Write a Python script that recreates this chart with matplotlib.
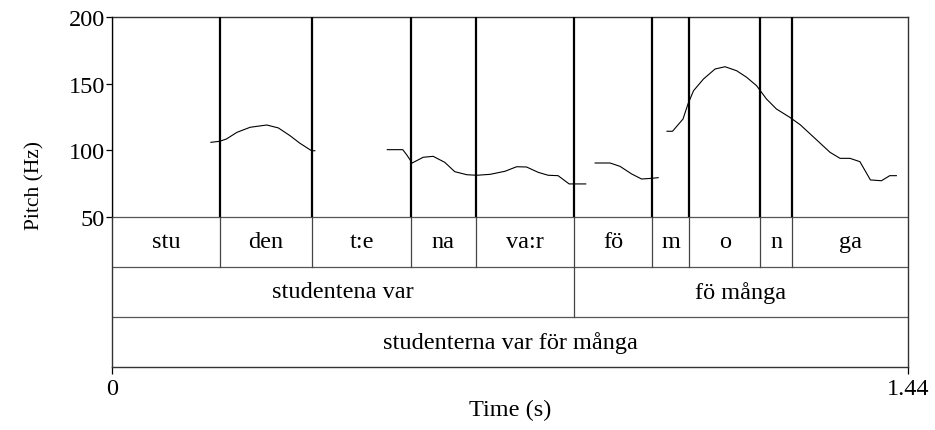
import matplotlib
matplotlib.use("Agg")
import matplotlib.pyplot as plt

# ---- data ----
total_dur = 1.44
tier1_bounds = [0.0, 0.195, 0.362, 0.541, 0.658, 0.836, 0.977, 1.044, 1.173, 1.231, 1.44]
tier1_labels = ["stu", "den", "t:e", "na", "va:r", "fö", "m", "o", "n", "ga"]
tier2_bounds = [0.0, 0.836, 1.44]
tier2_labels = ["studentena var", "fö många"]
tier3_bounds = [0.0, 1.44]
tier3_labels = ["studenterna var för många"]

seg1_t = [0.179, 0.195, 0.207, 0.226, 0.250, 0.280, 0.301, 0.322, 0.340, 0.361, 0.367]
seg1_hz = [106.0, 106.8, 108.5, 113.5, 117.3, 119.0, 116.8, 111.0, 105.3, 99.7, 99.7]
seg2_t = [0.498, 0.526, 0.533, 0.543, 0.563, 0.581, 0.602, 0.620, 0.642, 0.660, 0.684,
          0.711, 0.732, 0.750, 0.771, 0.789, 0.807, 0.827, 0.857]
seg2_hz = [100.5, 100.5, 96.7, 90.5, 94.8, 95.5, 91.0, 84.0, 81.7, 81.3, 82.0,
           84.3, 87.7, 87.5, 83.5, 81.3, 81.0, 74.8, 74.8]
seg3_t = [0.874, 0.901, 0.919, 0.940, 0.958, 0.976, 0.988]
seg3_hz = [90.5, 90.5, 88.0, 82.3, 78.5, 79.0, 79.5]
seg4_t = [1.004, 1.014, 1.033, 1.042, 1.052, 1.070, 1.091, 1.109, 1.130, 1.148, 1.166,
          1.184, 1.202, 1.226, 1.245, 1.263, 1.299, 1.317, 1.335, 1.353, 1.372, 1.392,
          1.407, 1.419]
seg4_hz = [114.3, 114.3, 123.5, 134.8, 144.7, 153.5, 161.0, 162.7, 159.7, 154.8, 148.5,
           138.5, 131.0, 124.8, 119.2, 112.3, 98.5, 94.0, 94.0, 91.5, 77.8, 77.2,
           81.0, 81.0]

y_ticks = [50, 100, 150, 200]
x_ticks = [0, 1.44]
x_ticklabels = ["0", "1.44"]

# ---- layout ----
plt.rcParams['font.family'] = ['Liberation Serif', 'DejaVu Serif']
W, H = 935, 431
fig = plt.figure(figsize=(W / 100, H / 100), dpi=100)
left, right, top, bottom = 112, 908, 18, 368
ax = fig.add_axes([left / W, 1 - bottom / H, (right - left) / W, (bottom - top) / H])

pmin, pmax = 50, 200
tier_h = (pmax - pmin) / 4.0  # 50px per tier vs 200px pitch area
ymin = pmin - 3 * tier_h
ax.set_xlim(0, total_dur)
ax.set_ylim(ymin, pmax)

fs = 17.5
# boundaries through pitch area (thick)
for b in tier1_bounds[:-1]:
    ax.plot([b, b], [pmin, pmax], color='black', lw=1.6, solid_capstyle='butt', zorder=3)

# tier horizontal separators
for k in range(0, 3):
    y = pmin - k * tier_h
    ax.axhline(y, color='#555555', lw=0.9, zorder=2)

def draw_tier(bounds, labels, idx):
    y_top = pmin - idx * tier_h
    y_bot = y_top - tier_h
    for b in bounds[1:-1]:
        ax.plot([b, b], [y_bot, y_top], color='#444444', lw=0.9, zorder=2)
    for i, lab in enumerate(labels):
        xc = (bounds[i] + bounds[i + 1]) / 2
        ax.text(xc, (y_top + y_bot) / 2, lab, ha='center', va='center', fontsize=fs, color='black')

draw_tier(tier1_bounds, tier1_labels, 0)
draw_tier(tier2_bounds, tier2_labels, 1)
draw_tier(tier3_bounds, tier3_labels, 2)

# pitch contour
for tt, hz in [(seg1_t, seg1_hz), (seg2_t, seg2_hz), (seg3_t, seg3_hz), (seg4_t, seg4_hz)]:
    ax.plot(tt, hz, color='black', lw=0.8, zorder=4)

for s in ax.spines.values():
    s.set_color('#333333')
    s.set_linewidth(1.0)

ax.set_yticks(y_ticks)
ax.set_yticklabels([str(v) for v in y_ticks], fontsize=fs)
ax.set_xticks(x_ticks)
ax.set_xticklabels(x_ticklabels, fontsize=fs)
ax.tick_params(axis='y', direction='out', length=4, width=0.9, pad=1)
ax.tick_params(axis='x', direction='out', length=5, width=0.9, pad=3)

fig.text(510 / W, 1 - 410 / H, "Time (s)", ha='center', va='center', fontsize=fs)
fig.text(35 / W, 1 - 185 / H, "Pitch (Hz)", ha='center', va='center', rotation=90, fontsize=15.5)

fig.savefig("out.png", dpi=100)
